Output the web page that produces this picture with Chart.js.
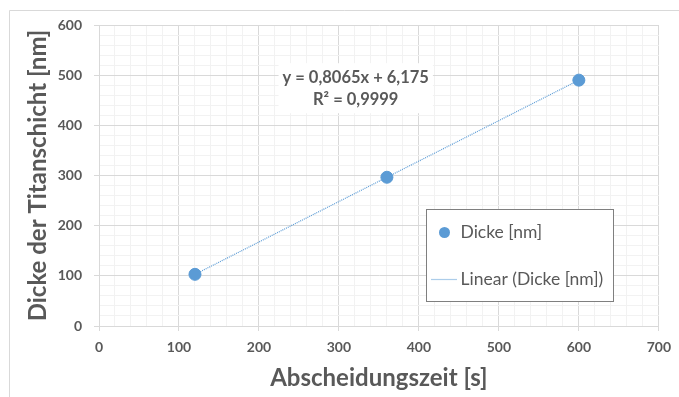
<!DOCTYPE html>
<html lang="de">
<head>
<meta charset="utf-8">
<title>Dicke der Titanschicht</title>
<script src="https://cdn.jsdelivr.net/npm/chart.js@4.4.1/dist/chart.umd.min.js"></script>
<style>
  html, body { margin: 0; padding: 0; background: #ffffff; }
  #wrap { width: 679px; height: 397px; }
  canvas { display: block; }
</style>
</head>
<body>
<div id="wrap"><canvas id="chart" width="679" height="397"></canvas></div>
<script>
// Messwerte: Abscheidungszeit [s] und gemessene Schichtdicke [nm]
const zeiten = [120, 360, 600];
const dicken = [103, 296.5, 490.1];

// Lineare Regression (Trendlinie) laut Gleichung im Diagramm
const steigung = 0.8065;
const achsenabschnitt = 6.175;
const trendBereich = [120, 600];

const serienName = 'Dicke [nm]';
const trendName = 'Linear (Dicke [nm])';
const gleichungText = ['y = 0,8065x + 6,175', 'R² = 0,9999'];
const xTitel = 'Abscheidungszeit [s]';
const yTitel = 'Dicke der Titanschicht [nm]';

const xTicks = [0, 100, 200, 300, 400, 500, 600, 700];
const yTicks = [0, 100, 200, 300, 400, 500, 600];

const FONT = 'Lato, "Open Sans", sans-serif';
const TEXT = '#595959';
const BLUE = '#5B9BD5';
const GRID_MAJOR = '#d9d9d9';
const GRID_MINOR = '#f2f2f2';

const punkte = zeiten.map((x, i) => ({ x, y: dicken[i] }));
const trend = trendBereich.map(x => ({ x, y: steigung * x + achsenabschnitt }));

const isMajor = (v, list) => list.includes(Math.round(v));

// Rahmen um die gesamte Diagrammfläche
const rahmen = {
  id: 'rahmen',
  beforeDraw(chart) {
    const c = chart.ctx;
    c.save();
    c.fillStyle = '#ffffff';
    c.fillRect(0, 0, chart.width, chart.height);
    c.strokeStyle = GRID_MAJOR;
    c.lineWidth = 1;
    c.beginPath();
    c.moveTo(9.5, chart.height);
    c.lineTo(9.5, 10.5);
    c.lineTo(chart.width, 10.5);
    c.stroke();
    c.restore();
  }
};

// Regressionsgleichung mit weißem Hintergrund
const gleichung = {
  id: 'gleichung',
  beforeDatasetsDraw(chart) {
    const c = chart.ctx;
    const xs = chart.scales.x, ys = chart.scales.y;
    const cx = xs.getPixelForValue(321);
    const cy = ys.getPixelForValue(474);
    c.save();
    c.font = 'bold 16.5px ' + FONT;
    const w = Math.max(...gleichungText.map(t => c.measureText(t).width)) + 8;
    c.fillStyle = '#ffffff';
    c.fillRect(cx - w / 2, cy - 25, w, 50);
    c.fillStyle = TEXT;
    c.textAlign = 'center';
    c.textBaseline = 'middle';
    c.fillText(gleichungText[0], cx, cy - 11);
    c.fillText(gleichungText[1], cx, cy + 11);
    c.restore();
  }
};

// Legende innerhalb der Zeichenfläche
const legende = {
  id: 'legende',
  afterDraw(chart) {
    const c = chart.ctx;
    const a = chart.chartArea;
    const left = a.left + 327.5, top = a.top + 184.5;
    const w = 187, h = 92;
    c.save();
    c.fillStyle = '#ffffff';
    c.fillRect(left, top, w, h);
    c.strokeStyle = '#7f7f7f';
    c.lineWidth = 1;
    c.strokeRect(left, top, w, h);
    // Eintrag 1: Messpunkte
    c.fillStyle = BLUE;
    c.beginPath();
    c.arc(left + 18, top + 23, 5.5, 0, Math.PI * 2);
    c.fill();
    c.fillStyle = TEXT;
    c.font = '17.5px ' + FONT;
    c.textBaseline = 'middle';
    c.textAlign = 'left';
    c.fillText(chart.data.datasets[0].label, left + 34, top + 23);
    // Eintrag 2: Trendlinie
    c.strokeStyle = BLUE;
    c.lineWidth = 1.2;
    c.setLineDash([1, 1]);
    c.beginPath();
    c.moveTo(left + 5, top + 70);
    c.lineTo(left + 31, top + 70);
    c.stroke();
    c.setLineDash([]);
    c.fillText(chart.data.datasets[1].label, left + 34, top + 70);
    c.restore();
  }
};

new Chart(document.getElementById('chart'), {
  type: 'scatter',
  data: {
    datasets: [
      {
        label: serienName,
        data: punkte,
        backgroundColor: BLUE,
        borderColor: BLUE,
        pointRadius: 6,
        pointHoverRadius: 6,
        showLine: false,
        order: 1
      },
      {
        label: trendName,
        data: trend,
        type: 'line',
        borderColor: BLUE,
        borderWidth: 1.2,
        borderDash: [1, 1],
        pointRadius: 0,
        fill: false,
        order: 2
      }
    ]
  },
  options: {
    responsive: false,
    animation: false,
    devicePixelRatio: 1,
    layout: { padding: { top: 25, right: 16, left: 0, bottom: 0 } },
    plugins: {
      legend: { display: false },
      tooltip: { enabled: false }
    },
    scales: {
      x: {
        type: 'linear',
        min: 0,
        max: 700,
        afterFit(s) { s.height = 71; },
        ticks: {
          stepSize: 20,
          autoSkip: false,
          maxRotation: 0,
          padding: 8,
          color: TEXT,
          font: { family: FONT, size: 14, weight: 'bold' },
          callback: v => (xTicks.includes(v) ? String(v) : '')
        },
        grid: {
          color: ctx => (isMajor(ctx.tick.value, xTicks) ? GRID_MAJOR : GRID_MINOR),
          tickColor: ctx => (isMajor(ctx.tick.value, xTicks) ? GRID_MAJOR : 'rgba(0,0,0,0)'),
          tickLength: 5
        },
        border: { color: GRID_MAJOR },
        title: {
          display: true,
          text: xTitel,
          color: TEXT,
          font: { family: FONT, size: 24, weight: 'bold' },
          padding: { top: 0, bottom: 4 }
        }
      },
      y: {
        type: 'linear',
        min: 0,
        max: 600,
        afterFit(s) { s.width = 99; },
        ticks: {
          stepSize: 20,
          autoSkip: false,
          padding: 12,
          color: TEXT,
          font: { family: FONT, size: 14, weight: 'bold' },
          callback: v => (yTicks.includes(v) ? String(v) : '')
        },
        grid: {
          color: ctx => (isMajor(ctx.tick.value, yTicks) ? GRID_MAJOR : GRID_MINOR),
          tickColor: ctx => (isMajor(ctx.tick.value, yTicks) ? GRID_MAJOR : 'rgba(0,0,0,0)'),
          tickLength: 5
        },
        border: { color: GRID_MAJOR },
        title: {
          display: true,
          text: yTitel,
          color: TEXT,
          font: { family: FONT, size: 24, weight: 'bold' },
          padding: { top: 24, bottom: 0 }
        }
      }
    }
  },
  plugins: [rahmen, gleichung, legende]
});
</script>
</body>
</html>
